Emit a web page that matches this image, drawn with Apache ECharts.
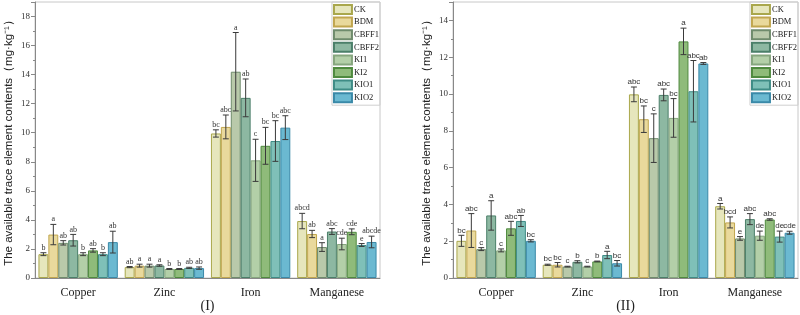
<!DOCTYPE html>
<html>
<head>
<meta charset="utf-8">
<script src="https://cdn.jsdelivr.net/npm/echarts@6/dist/echarts.min.js"></script>
<style>
  html, body { margin: 0; padding: 0; background: #fff; }
  #chart { width: 800px; height: 315px; }
</style>
</head>
<body>
<div id="chart"></div>
<script>
// categories and treatments
const elements = ['Copper', 'Zinc', 'Iron', 'Manganese'];
const treatments = ['CK', 'BDM', 'CBFF1', 'CBFF2', 'KI1', 'KI2', 'KIO1', 'KIO2'];
const yTicksI = [0, 2, 4, 6, 8, 10, 12, 14, 16, 18];
const yTicksII = [0, 2, 4, 6, 8, 10, 12, 14];

// panel (I): one row per treatment, columns = elements
const meanI = [
  [1.64, 0.75, 9.95, 3.92],
  [2.99, 0.85, 10.4, 3.03],
  [2.42, 0.85, 14.2, 2.13],
  [2.6, 0.86, 12.4, 3.2],
  [1.64, 0.62, 8.1, 2.34],
  [1.9, 0.62, 9.1, 3.18],
  [1.64, 0.7, 9.43, 2.27],
  [2.47, 0.68, 10.35, 2.48]
];
const errI = [
  [0.1, 0.04, 0.25, 0.53],
  [0.7, 0.1, 0.82, 0.25],
  [0.15, 0.1, 2.7, 0.3],
  [0.4, 0.05, 1.3, 0.2],
  [0.1, 0.03, 1.45, 0.4],
  [0.12, 0.03, 1.27, 0.2],
  [0.1, 0.04, 1.4, 0.1],
  [0.75, 0.08, 0.82, 0.4]
];
const sigI = [
  ['b', 'ab', 'bc', 'abcd'],
  ['a', 'a', 'abc', 'ab'],
  ['ab', 'a', 'a', 'a'],
  ['ab', 'a', 'ab', 'abc'],
  ['b', 'b', 'c', 'cde'],
  ['ab', 'b', 'bc', 'cde'],
  ['b', 'ab', 'bc', 'e'],
  ['ab', 'ab', 'abc', 'abcde']
];

// panel (II)
const meanII = [
  [2.02, 0.72, 9.98, 3.9],
  [2.58, 0.72, 8.63, 3.02],
  [1.57, 0.62, 7.6, 2.15],
  [3.4, 0.88, 9.95, 3.2],
  [1.5, 0.62, 8.7, 2.3],
  [2.7, 0.9, 12.86, 3.18],
  [3.1, 1.25, 10.15, 2.25],
  [2.02, 0.8, 11.66, 2.46]
];
const errII = [
  [0.3, 0.03, 0.4, 0.15],
  [0.92, 0.12, 0.72, 0.3],
  [0.08, 0.02, 1.32, 0.1],
  [0.8, 0.06, 0.32, 0.3],
  [0.08, 0.02, 1.05, 0.25],
  [0.38, 0.02, 0.72, 0.04],
  [0.3, 0.2, 1.67, 0.3],
  [0.06, 0.15, 0.05, 0.08]
];
const sigII = [
  ['bc', 'bc', 'abc', 'a'],
  ['abc', 'bc', 'bc', 'bcd'],
  ['c', 'c', 'c', 'e'],
  ['a', 'b', 'abc', 'abc'],
  ['c', 'c', 'bc', 'de'],
  ['abc', 'b', 'a', 'abc'],
  ['ab', 'a', 'abc', 'de'],
  ['bc', 'bc', 'ab', 'cde']
];

// bar colours
const fills = ['#e6e6bc', '#e9d99c', '#b9c9aa', '#8db8a2', '#b3cfa8', '#8fbb7a', '#7fc0b8', '#6bb9d1'];
const borders = ['#a9a74c', '#c1a64f', '#6f8b6c', '#4b7f69', '#86a67e', '#4f8a3f', '#3f8c86', '#3a89a8'];

const serif = 'Liberation Serif';
const sans = 'Liberation Sans';
const gapPct = 0.08;

const myChart = echarts.init(document.getElementById('chart'));

const errSeries = (gi, means, errs, sigs, font) => {
  const data = [];
  const labels = [];
  means.forEach((row, s) => {
    row.forEach((v, c) => {
      data.push([c, v, errs[s][c], s]);
      labels.push(sigs[s][c]);
    });
  });
  return {
    type: 'custom',
    xAxisIndex: gi,
    yAxisIndex: gi,
    z: 10,
    silent: true,
    data: data,
    renderItem: (params, api) => {
      const c = api.value(0), m = api.value(1), e = api.value(2), s = api.value(3);
      const bandW = api.size([1, 0])[0];
      const groupW = bandW * (1 - gapPct);
      const bw = groupW / treatments.length;
      const x = api.coord([c, 0])[0] - groupW / 2 + (s + 0.5) * bw;
      const top = api.coord([c, m + e])[1];
      const bot = api.coord([c, m - e])[1];
      const cap = bw * 0.3;
      const st = { stroke: '#3a3a3a', lineWidth: 1 };
      return {
        type: 'group',
        children: [
          { type: 'line', shape: { x1: x, y1: top, x2: x, y2: bot }, style: st },
          { type: 'line', shape: { x1: x - cap, y1: top, x2: x + cap, y2: top }, style: st },
          { type: 'line', shape: { x1: x - cap, y1: bot, x2: x + cap, y2: bot }, style: st },
          {
            type: 'text',
            style: {
              x: x, y: top - 1, text: labels[params.dataIndex],
              align: 'center', verticalAlign: 'bottom',
              fontSize: 8, fontFamily: font, fill: '#333'
            }
          }
        ]
      };
    }
  };
};

const barSeries = (gi, means) => treatments.map((name, s) => ({
  name: name,
  type: 'bar',
  xAxisIndex: gi,
  yAxisIndex: gi,
  barGap: '0%',
  barCategoryGap: (gapPct * 100) + '%',
  itemStyle: { color: fills[s], borderColor: borders[s], borderWidth: 1 },
  data: means[s]
}));

const xAxisCfg = (gi, title) => ({
  type: 'category',
  gridIndex: gi,
  data: elements,
  name: title,
  nameLocation: 'middle',
  nameGap: 21,
  nameMoveOverlap: false,
  nameTextStyle: { fontFamily: serif, fontSize: 14, color: '#222' },
  axisLine: { lineStyle: { color: '#888' } },
  axisTick: { lineStyle: { color: '#888' }, length: 4 },
  axisLabel: { fontFamily: serif, fontSize: 12, color: '#222', margin: 9 },
  splitLine: { show: false }
});

const yAxisCfg = (gi, max, ticks) => ({
  type: 'value',
  gridIndex: gi,
  min: 0,
  max: max,
  interval: 2,
  name: 'The available trace element contents（mg·kg⁻¹）',
  nameLocation: 'middle',
  nameGap: 20,
  nameTextStyle: { fontFamily: sans, fontSize: 11.5, color: '#222' },
  axisLine: { show: true, lineStyle: { color: '#888' } },
  axisTick: { show: true, length: 4, lineStyle: { color: '#888' } },
  minorTick: { show: true, splitNumber: 2, length: 2, lineStyle: { color: '#888' } },
  axisLabel: {
    fontFamily: serif, fontSize: 9, color: '#333', margin: 5,
    formatter: v => (ticks.indexOf(v) >= 0 ? String(v) : '')
  },
  splitLine: { show: false }
});

const legendCfg = (right) => ({
  data: treatments,
  orient: 'vertical',
  right: right,
  top: 2,
  itemWidth: 18,
  itemHeight: 9,
  itemGap: 1.6,
  padding: [2, 1, 2, 1],
  borderColor: '#cfcfcf',
  borderWidth: 1,
  icon: 'rect',
  textStyle: { fontFamily: serif, fontSize: 8.5, color: '#222', padding: [0, 0, 0, -3] }
});

const option = {
  animation: false,
  backgroundColor: '#fff',
  grid: [
    { left: 35, right: 420, top: 2, bottom: 37, show: true, borderColor: '#c8c8c8', borderWidth: 1, outerBoundsMode: 'none' },
    { left: 453, right: 2, top: 2, bottom: 37, show: true, borderColor: '#c8c8c8', borderWidth: 1, outerBoundsMode: 'none' }
  ],
  legend: [legendCfg(420), legendCfg(2)],
  xAxis: [xAxisCfg(0, '(I)'), xAxisCfg(1, '(II)')],
  yAxis: [yAxisCfg(0, 19, yTicksI), yAxisCfg(1, 15, yTicksII)],
  series: [
    ...barSeries(0, meanI),
    ...barSeries(1, meanII),
    errSeries(0, meanI, errI, sigI, serif),
    errSeries(1, meanII, errII, sigII, sans)
  ]
};

myChart.setOption(option);
</script>
</body>
</html>
